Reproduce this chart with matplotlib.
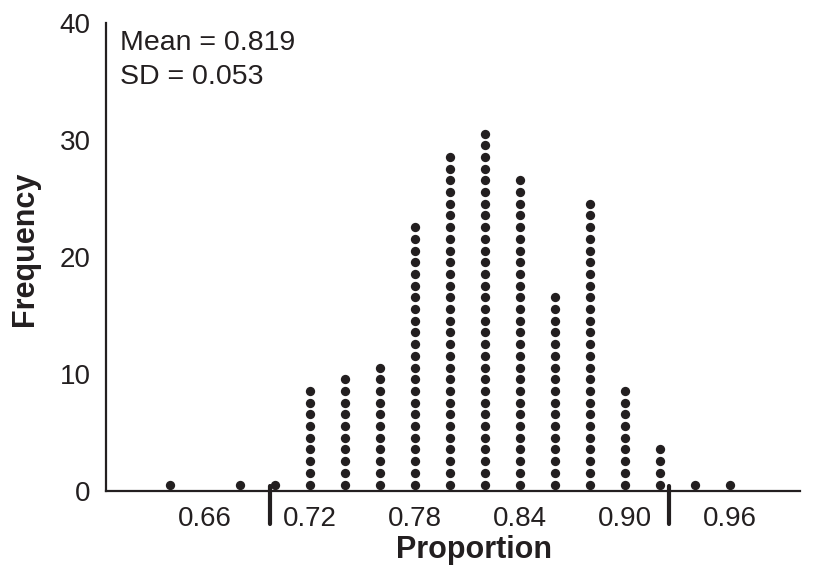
import matplotlib
matplotlib.use("Agg")
import matplotlib.pyplot as plt

# dot plot data: proportion value -> number of dots in that column
proportions = [0.64, 0.68, 0.70, 0.72, 0.74, 0.76, 0.78, 0.80, 0.82, 0.84, 0.86, 0.88, 0.90, 0.92, 0.94, 0.96]
counts = [1, 1, 1, 9, 10, 11, 23, 29, 31, 27, 17, 25, 9, 4, 1, 1]
cutoffs = [0.6975, 0.9252]  # hand-drawn marks below the axis
xticks = [0.66, 0.72, 0.78, 0.84, 0.90, 0.96]
xtick_labels = ["0.66", "0.72", "0.78", "0.84", "0.90", "0.96"]
yticks = [0, 10, 20, 30, 40]
mean_txt = "Mean = 0.819"
sd_txt = "SD = 0.053"

ink = "#231f20"
plt.rcParams['font.family'] = ['Liberation Sans', 'DejaVu Sans']

fig = plt.figure(figsize=(8.2, 5.74), dpi=100)
ax = fig.add_axes([0.129, 0.1446, 0.847, 0.8154])

# stack the dots, one per observation
xs, ys = [], []
for p, c in zip(proportions, counts):
    for k in range(c):
        xs.append(p)
        ys.append(k + 0.55)
ax.plot(xs, ys, 'o', color=ink, markersize=6.7, markeredgewidth=0, clip_on=False)

for c in cutoffs:
    ax.plot([c, c], [0.4, -2.8], color=ink, linewidth=3.0, solid_capstyle='round', clip_on=False)

ax.set_xlim(0.6036, 1.0)
ax.set_ylim(0, 40)
ax.set_xticks(xticks, labels=xtick_labels)
ax.set_yticks(yticks)
ax.tick_params(axis='both', length=0, labelsize=20, colors=ink)
ax.tick_params(axis='y', pad=11)
ax.tick_params(axis='x', pad=11)

for s in ['top', 'right']:
    ax.spines[s].set_visible(False)
for s in ['left', 'bottom']:
    ax.spines[s].set_color(ink)
    ax.spines[s].set_linewidth(1.6)

ax.set_xlabel("Proportion", fontsize=22, fontweight='bold', color=ink, labelpad=3)
ax.xaxis.set_label_coords(0.53, -0.095)
ax.set_ylabel("Frequency", fontsize=22, fontweight='bold', color=ink)
ax.yaxis.set_label_coords(-0.095, 0.517)

ax.text(0.02, 0.985, mean_txt, transform=ax.transAxes, fontsize=20.5, color=ink, va='top', ha='left')
ax.text(0.02, 0.912, sd_txt, transform=ax.transAxes, fontsize=20.5, color=ink, va='top', ha='left')

plt.savefig("out.png", dpi=100)
